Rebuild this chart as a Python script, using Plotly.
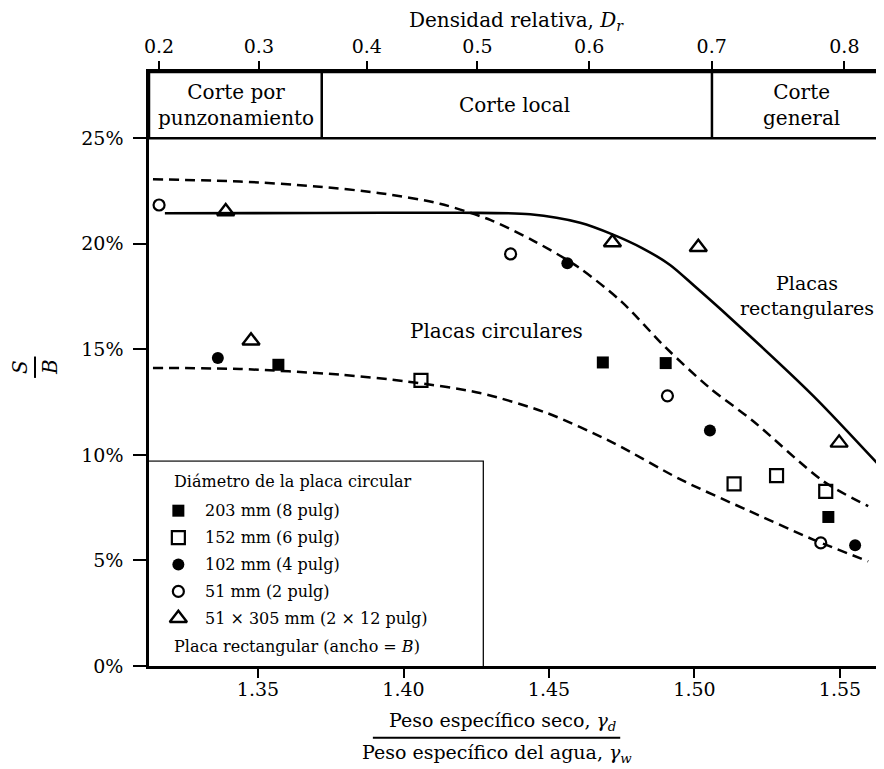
import plotly.graph_objects as go

# ---------------- data ----------------
# x: gamma_d / gamma_w ; y: S/B in %
sq_fill_x = [1.3570, 1.4685, 1.4901, 1.5460]
sq_fill_y = [14.27, 14.38, 14.35, 7.06]

sq_open_x = [1.4060, 1.5136, 1.5282, 1.5451]
sq_open_y = [13.53, 8.63, 9.02, 8.27]

ci_fill_x = [1.3362, 1.4563, 1.5053, 1.5552]
ci_fill_y = [14.59, 19.08, 11.16, 5.72]

ci_open_x = [1.3160, 1.4368, 1.4907, 1.5434]
ci_open_y = [21.84, 19.52, 12.80, 5.83]

tri_x = [1.3389, 1.3476, 1.4718, 1.5013, 1.5497]
tri_y = [21.53, 15.41, 20.06, 19.84, 10.57]

rect_curve_x = [1.3180, 1.3700, 1.4200, 1.4435, 1.4607, 1.4718, 1.4820, 1.4916, 1.5000, 1.5122, 1.5408, 1.5643]
rect_curve_y = [21.45, 21.46, 21.47, 21.40, 21.00, 20.45, 19.80, 19.00, 18.00, 16.50, 12.80, 9.38]

circ_upper_x = [1.3139, 1.3438, 1.3700, 1.3919, 1.4125, 1.4300, 1.4450, 1.4600, 1.4750, 1.4900, 1.5050, 1.5200, 1.5443, 1.5597]
circ_upper_y = [23.06, 22.95, 22.72, 22.40, 21.90, 21.12, 20.12, 18.90, 17.25, 15.10, 13.20, 11.62, 8.75, 7.57]

circ_lower_x = [1.3139, 1.3438, 1.3782, 1.4011, 1.4263, 1.4492, 1.4721, 1.4950, 1.5179, 1.5408, 1.5597]
circ_lower_y = [14.12, 14.07, 13.80, 13.48, 12.93, 11.99, 10.57, 8.85, 7.40, 5.99, 4.96]

# bottom axis ticks
gamma_ticks = [1.35, 1.40, 1.45, 1.50, 1.55]
gamma_labels = ["1.35", "1.40", "1.45", "1.50", "1.55"]
# y axis ticks
sb_ticks = [0, 5, 10, 15, 20, 25]
sb_labels = ["0%", "5%", "10%", "15%", "20%", "25%"]
# top axis: relative density labels and their gamma positions
dr_labels = ["0.2", "0.3", "0.4", "0.5", "0.6", "0.7", "0.8"]
dr_gamma = [1.3160, 1.3503, 1.3874, 1.4254, 1.4638, 1.5059, 1.5515]
# failure-mode zones (gamma boundaries)
zone_bounds = [1.3719, 1.5060]
zone_names = ["Corte por<br>punzonamiento", "Corte local", "Corte<br>general"]
zone_centers = [1.3426, 1.4383, 1.5368]

legend_names = ["203 mm (8 pulg)", "152 mm (6 pulg)", "102 mm (4 pulg)",
                "51 mm (2 pulg)", "51 × 305 mm (2 × 12 pulg)"]
legend_rows = [0, 1, 2, 3, 4]

X_RANGE = [1.31254, 1.56478]
Y_TOP = 28.14
FONT = "DejaVu Serif"

fig = go.Figure()

dash = "10px,6px"
fig.add_trace(go.Scatter(x=circ_upper_x, y=circ_upper_y, mode="lines",
                         line=dict(color="black", width=2.5, dash=dash, shape="spline", smoothing=0.8),
                         showlegend=False, hoverinfo="skip"))
fig.add_trace(go.Scatter(x=circ_lower_x, y=circ_lower_y, mode="lines",
                         line=dict(color="black", width=2.5, dash=dash, shape="spline", smoothing=0.8),
                         showlegend=False, hoverinfo="skip"))
fig.add_trace(go.Scatter(x=rect_curve_x, y=rect_curve_y, mode="lines",
                         line=dict(color="black", width=2.6, shape="spline", smoothing=0.8),
                         showlegend=False, hoverinfo="skip"))

marker_styles = [
    dict(symbol="square", size=12, color="black"),
    dict(symbol="square-open", size=13, color="black", line=dict(width=2.2, color="black")),
    dict(symbol="circle", size=12, color="black"),
    dict(symbol="circle-open", size=11, color="black", line=dict(width=2.2, color="black")),
    dict(symbol="triangle-up-open", size=15, color="black", line=dict(width=2.4, color="black")),
]
series = [(sq_fill_x, sq_fill_y), (sq_open_x, sq_open_y), (ci_fill_x, ci_fill_y),
          (ci_open_x, ci_open_y), (tri_x, tri_y)]
for (sx, sy), ms, nm in zip(series, marker_styles, legend_names):
    fig.add_trace(go.Scatter(x=sx, y=sy, mode="markers", marker=ms, name=nm,
                             showlegend=False, cliponaxis=False))

# legend keys on an auxiliary axis inside the legend box
for row, ms in zip(legend_rows, marker_styles):
    fig.add_trace(go.Scatter(x=[0.088], y=[row], mode="markers", marker=ms,
                             xaxis="x3", yaxis="y3", showlegend=False, hoverinfo="skip",
                             cliponaxis=False))

# invisible trace to activate the top axis
fig.add_trace(go.Scatter(x=dr_gamma, y=[None] * len(dr_gamma), xaxis="x2", yaxis="y",
                         mode="markers", showlegend=False, hoverinfo="skip"))

tick_font = dict(family=FONT, size=19, color="black")

# the page body adds an 8 px offset, so the figure is 8 px smaller on each side
fig.update_layout(
    width=876, height=761,
    margin=dict(l=141, r=1, t=64, b=103),
    paper_bgcolor="white", plot_bgcolor="white",
    showlegend=False,
    font=dict(family=FONT, color="black"),
    xaxis=dict(range=X_RANGE, tickvals=gamma_ticks, ticktext=gamma_labels,
               showline=True, linecolor="black", linewidth=2.5,
               ticks="outside", ticklen=9, tickwidth=1.5, tickcolor="black",
               showgrid=False, zeroline=False, tickfont=tick_font, ticklabelstandoff=-5),
    xaxis2=dict(range=X_RANGE, overlaying="x", side="top", anchor="y",
                tickvals=dr_gamma, ticktext=dr_labels,
                showline=True, linecolor="black", linewidth=2.5,
                ticks="outside", ticklen=8, tickwidth=1.5, tickcolor="black",
                showgrid=False, zeroline=False, tickfont=tick_font, ticklabelstandoff=1,
                title=dict(text="Densidad relativa, <i>D</i><sub><i>r</i></sub>",
                           font=dict(family=FONT, size=20, color="black"), standoff=6)),
    yaxis=dict(range=[0, Y_TOP], tickvals=sb_ticks, ticktext=sb_labels,
               showline=True, linecolor="black", linewidth=2.5,
               ticks="outside", ticklen=13, tickwidth=1.5, tickcolor="black",
               showgrid=False, zeroline=False, tickfont=tick_font, ticklabelstandoff=6),
    xaxis3=dict(domain=[0, 0.4546], range=[0, 1], visible=False, anchor="y3"),
    yaxis3=dict(domain=[0, 0.344], range=[5.773, -1.822], visible=False, anchor="x3"),
)

shapes = []
# top zone box
shapes.append(dict(type="rect", xref="paper", yref="y", x0=0, x1=1, y0=25, y1=Y_TOP,
                   line=dict(color="black", width=2.5)))
for zb in zone_bounds:
    shapes.append(dict(type="line", xref="x", yref="y", x0=zb, x1=zb, y0=25, y1=Y_TOP,
                       line=dict(color="black", width=2.5)))
# legend box
shapes.append(dict(type="rect", xref="paper", yref="paper", x0=0, x1=0.4546, y0=0, y1=0.344,
                   fillcolor="white", line=dict(color="black", width=2.5), layer="below"))
# fraction bars for axis titles
shapes.append(dict(type="line", xref="paper", yref="paper", x0=0.305, x1=0.642,
                   y0=-0.121, y1=-0.121, line=dict(color="black", width=2)))
shapes.append(dict(type="line", xref="paper", yref="paper", x0=-0.1553, x1=-0.1553,
                   y0=0.485, y1=0.521, line=dict(color="black", width=2)))
fig.update_layout(shapes=shapes)

ann = []
for zn, zc in zip(zone_names, zone_centers):
    ann.append(dict(x=zc, y=(25 + Y_TOP) / 2, xref="x", yref="y", text=zn, showarrow=False,
                    xanchor="center", yanchor="middle",
                    font=dict(family=FONT, size=20, color="black")))
ann.append(dict(x=1.4320, y=15.89, xref="x", yref="y", text="Placas circulares",
                xanchor="center", yanchor="middle",
                showarrow=False, font=dict(family=FONT, size=20, color="black")))
ann.append(dict(x=1.5388, y=17.57, xref="x", yref="y", text="Placas<br>rectangulares",
                xanchor="center", yanchor="middle",
                showarrow=False, font=dict(family=FONT, size=19, color="black")))
# legend texts
ann.append(dict(x=0.0309, y=0.3103, xref="paper", yref="paper", xanchor="left", yanchor="middle",
                text="Diámetro de la placa circular", showarrow=False,
                font=dict(family=FONT, size=16, color="black")))
for row, nm in zip(legend_rows, legend_names):
    ann.append(dict(x=0.0740, y=row, xref="paper", yref="y3", xanchor="left", yanchor="middle",
                    text=nm, showarrow=False, font=dict(family=FONT, size=16, color="black")))
ann.append(dict(x=0.0309, y=0.0325, xref="paper", yref="paper", xanchor="left", yanchor="middle",
                text="Placa rectangular (ancho = <i>B</i>)", showarrow=False,
                font=dict(family=FONT, size=16, color="black")))
# bottom axis title (fraction)
ann.append(dict(x=0.482, y=-0.094, xref="paper", yref="paper", xanchor="center", yanchor="middle",
                text="Peso específico seco, <i>γ</i><sub><i>d</i></sub>", showarrow=False,
                font=dict(family=FONT, size=19, color="black")))
ann.append(dict(x=0.474, y=-0.148, xref="paper", yref="paper", xanchor="center", yanchor="middle",
                text="Peso específico del agua, <i>γ</i><sub><i>w</i></sub>", showarrow=False,
                font=dict(family=FONT, size=19, color="black")))
# y axis title (fraction S/B rotated)
ann.append(dict(x=-0.1757, y=0.5034, xref="paper", yref="paper", text="<i>S</i>",
                xanchor="center", yanchor="middle",
                textangle=-90, showarrow=False, font=dict(family=FONT, size=20, color="black")))
ann.append(dict(x=-0.1349, y=0.5034, xref="paper", yref="paper", text="<i>B</i>",
                xanchor="center", yanchor="middle",
                textangle=-90, showarrow=False, font=dict(family=FONT, size=20, color="black")))
fig.update_layout(annotations=ann)

fig.write_html("out.html")
